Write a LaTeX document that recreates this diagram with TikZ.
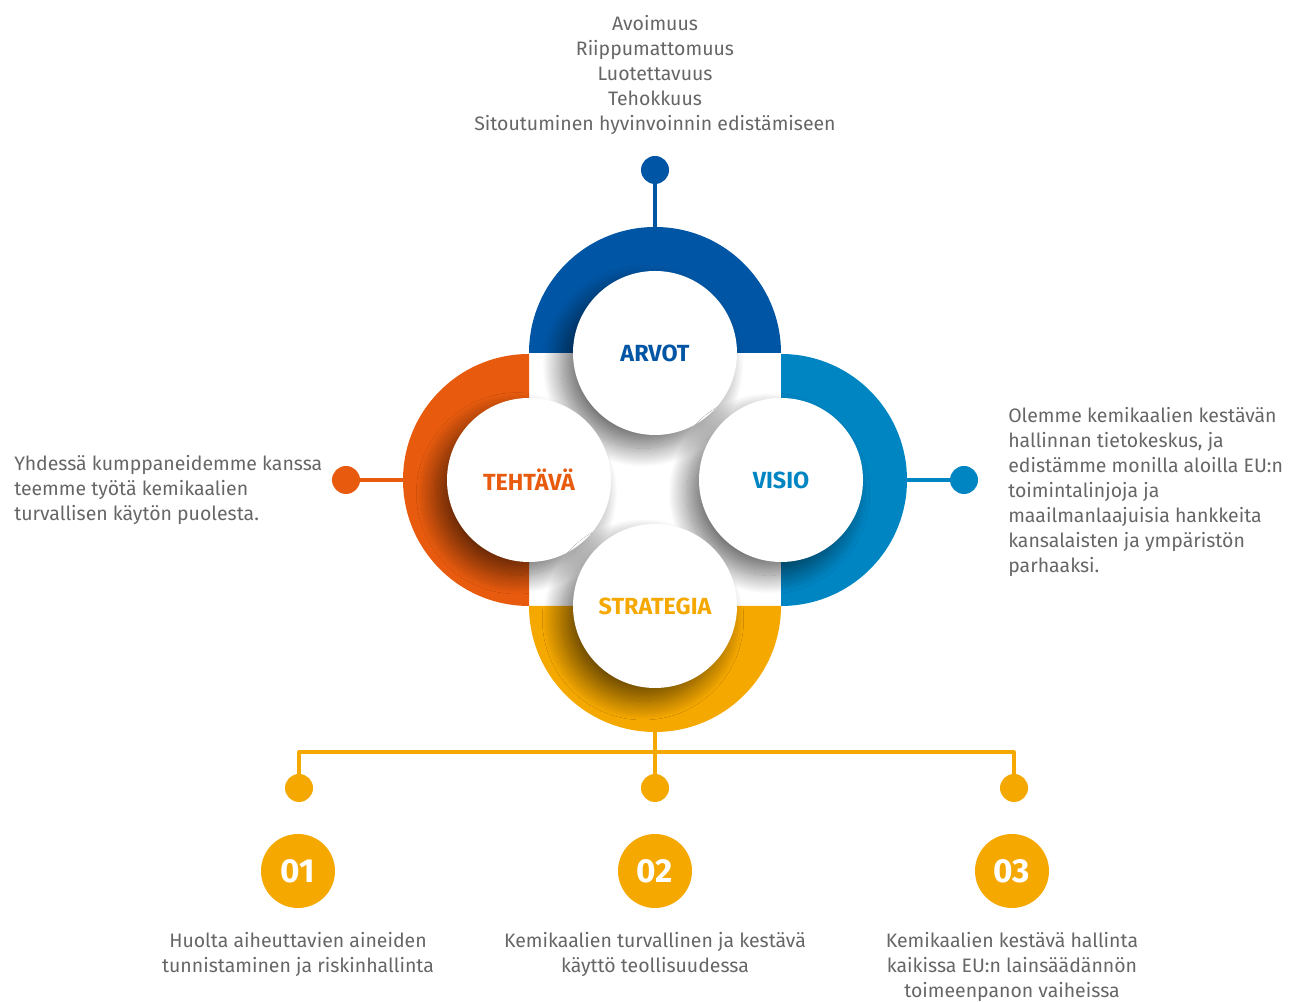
\documentclass[tikz,border=0pt]{standalone}
\usepackage{fontspec}
\setmainfont{Fira Sans}
\usetikzlibrary{shadows.blur}
\definecolor{arvotcol}{HTML}{0055A4}
\definecolor{visiocol}{HTML}{0085C3}
\definecolor{tehtavacol}{HTML}{E85B0E}
\definecolor{strategiacol}{HTML}{F5A800}
\definecolor{textgray}{HTML}{666666}
\begin{document}
\begin{tikzpicture}[line join=round, line cap=round, x=0.75pt, y=0.75pt]
  \tikzset{dot/.style={circle, minimum size=21pt, inner sep=0pt},
    disc/.style={circle, fill=white, minimum size=123pt, inner sep=0pt,
      font=\bfseries\fontsize{17.5}{18}\selectfont,
      blur shadow={shadow xshift=-9pt, shadow yshift=-10pt, shadow blur radius=14pt,
        shadow blur steps=24, shadow opacity=55}},
    numdisc/.style={circle, fill=strategiacol, minimum size=55.5pt, inner sep=0pt,
      text=white, font=\bfseries\fontsize{25}{25}\selectfont},
    body/.style={text=textgray, inner sep=0pt, font=\fontsize{14.6}{18.75}\selectfont},
    link/.style={line width=2.4pt}}
  \def\rout{126}
  \useasboundingbox (0,0) rectangle (1293,1002);
  \coordinate (C-arvot) at (655,649);
  \coordinate (C-tehtava) at (529,522);
  \coordinate (C-visio) at (781,522);
  \coordinate (C-strategia) at (655,396);
  \coordinate (bus) at (655,250);
  \node[dot, fill=arvotcol] (arvotdot) at (655,832) {};
  \node[dot, fill=tehtavacol] (tehtavadot) at (346,522) {};
  \node[dot, fill=visiocol] (visiodot) at (964,522) {};
  \node[dot, fill=strategiacol] (goaldot1) at (299,214) {};
  \node[dot, fill=strategiacol] (goaldot2) at (655,214) {};
  \node[dot, fill=strategiacol] (goaldot3) at (1014,214) {};
  \draw[link, arvotcol] (C-arvot) -- (arvotdot);
  \draw[link, tehtavacol] (C-tehtava) -- (tehtavadot);
  \draw[link, visiocol] (C-visio) -- (visiodot);
  \draw[link, strategiacol] (C-strategia) -- (goaldot2);
  \draw[link, strategiacol] (goaldot1) |- (bus) -| (goaldot3);
  \foreach \n/\c/\a in {arvot/arvotcol/0, visio/visiocol/-90, tehtava/tehtavacol/90, strategia/strategiacol/180}
    \fill[\c] (C-\n) ++(\a:\rout) arc[start angle=\a, end angle=\a+180, radius=\rout] -- cycle;
  \foreach \n/\c/\t in {arvot/arvotcol/ARVOT, visio/visiocol/VISIO, tehtava/tehtavacol/TEHTÄVÄ, strategia/strategiacol/STRATEGIA}
    \node[disc, text=\c] (\n) at (C-\n) {\t};
  \node[numdisc] (num1) at (298,131) {01};
  \node[numdisc] (num2) at (655,131) {02};
  \node[numdisc] (num3) at (1012,131) {03};
  \node[body, align=center] (arvottext) at (655,927) {Avoimuus\\Riippumattomuus\\Luotettavuus\\Tehokkuus\\Sitoutuminen hyvinvoinnin edistämiseen};
  \node[body, align=left, anchor=west] (tehtavatext) at (14,512) {Yhdessä kumppaneidemme kanssa\\teemme työtä kemikaalien\\turvallisen käytön puolesta.};
  \node[body, align=left, anchor=west] (visiotext) at (1008,510) {Olemme kemikaalien kestävän\\hallinnan tietokeskus, ja\\edistämme monilla aloilla EU:n\\toimintalinjoja ja\\maailmanlaajuisia hankkeita\\kansalaisten ja ympäristön\\parhaaksi.};
  \node[body, align=center, anchor=north] (goal1) at (298,70) {Huolta aiheuttavien aineiden\\tunnistaminen ja riskinhallinta};
  \node[body, align=center, anchor=north] (goal2) at (655,70) {Kemikaalien turvallinen ja kestävä\\käyttö teollisuudessa};
  \node[body, align=center, anchor=north] (goal3) at (1012,70) {Kemikaalien kestävä hallinta\\kaikissa EU:n lainsäädännön\\toimeenpanon vaiheissa};
\end{tikzpicture}
\end{document}
